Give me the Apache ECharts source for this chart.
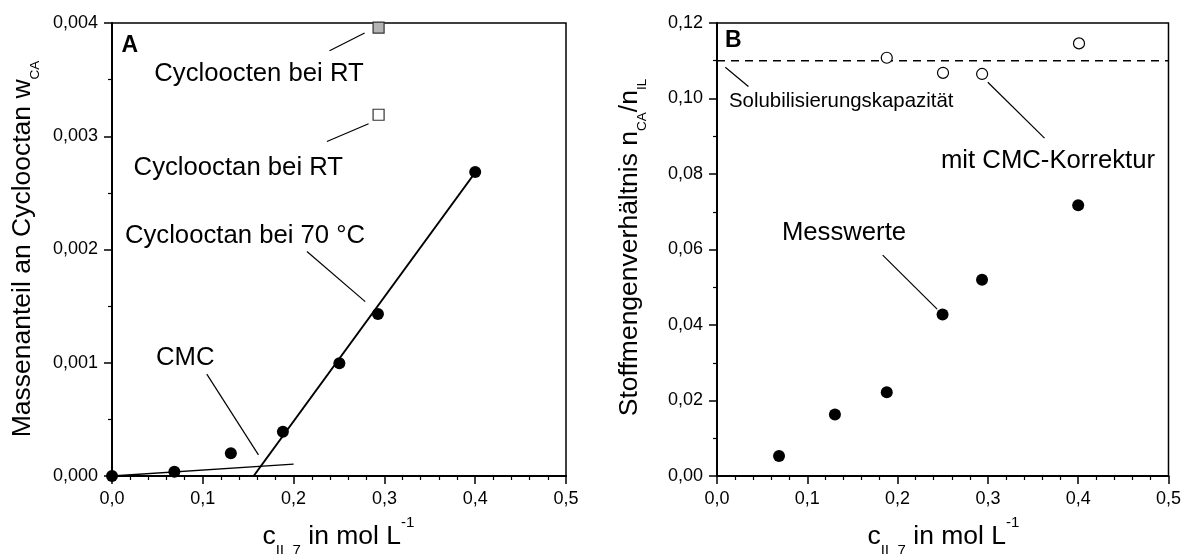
<!DOCTYPE html>
<html><head><meta charset="utf-8">
<script src="https://cdn.jsdelivr.net/npm/echarts@6/dist/echarts.min.js"></script>
<style>html,body{margin:0;padding:0;background:#fff}#c{width:1184px;height:554px}</style>
</head><body><div id="c"></div>
<script>
// ---------- data ----------
// axis ranges [min, max, interval]
const xRange = [0, 0.5, 0.1];
const yRangeA = [0, 0.004, 0.001];
const yRangeB = [0, 0.12, 0.02];
const xDecimals = 1, yDecimalsA = 3, yDecimalsB = 2;

// Panel A
const cA = [0, 0.0687, 0.1309, 0.1882, 0.2504, 0.2929, 0.4];
const wCA70 = [0, 0.000038, 0.0002, 0.00039, 0.000996, 0.00143, 0.002685];
const cycloocteneRT = [[0.2936, 0.00396]];
const cyclooctaneRT = [[0.2936, 0.00319]];
const fitLineA = [[0.156, 0], [0.4, 0.00268]];
const cmcLineA = [[0, 0], [0.2, 0.000105]];
const calloutsA = [
  [[0.2396, 0.003755], [0.2782, 0.003912]],
  [[0.2367, 0.002954], [0.2826, 0.00311]],
  [[0.2147, 0.001982], [0.2789, 0.00154]],
  [[0.1044, 0.0009], [0.1613, 0.000186]]
];

// Panel B
const cB = [0.0687, 0.1306, 0.188, 0.2498, 0.2935, 0.4];
const nRatio = [0.0053, 0.0163, 0.0222, 0.0428, 0.052, 0.0717];
const cBcorr = [0.188, 0.2503, 0.2936, 0.4009];
const nRatioCorr = [0.1108, 0.1068, 0.1065, 0.1146];
const capacity = 0.11;
const calloutsB = [
  [[0.0092, 0.1083], [0.0348, 0.1032]],
  [[0.1835, 0.0585], [0.2438, 0.0442]],
  [[0.2999, 0.1043], [0.3627, 0.0895]]
];

// ---------- chart ----------
const FONT = '"Liberation Sans", Arial, sans-serif';
const zip = (xs, ys) => xs.map((x, i) => [x, ys[i]]);
const fmt = d => v => v.toFixed(d).replace('.', ',');

function xAxis(gi) {
  return {
    type: 'value', gridIndex: gi, min: xRange[0], max: xRange[1], interval: xRange[2],
    axisLine: { onZero: false, lineStyle: { color: '#000', width: 2 } },
    axisTick: { length: 8, lineStyle: { color: '#000', width: 1.5 } },
    minorTick: { show: true, splitNumber: 5, length: 4, lineStyle: { color: '#000', width: 1.2 } },
    axisLabel: { formatter: fmt(xDecimals), fontSize: 18, color: '#000', margin: 14, fontFamily: FONT },
    splitLine: { show: false }, minorSplitLine: { show: false }
  };
}
function yAxis(gi, r, d) {
  return {
    type: 'value', gridIndex: gi, min: r[0], max: r[1], interval: r[2],
    axisLine: { onZero: false, lineStyle: { color: '#000', width: 2 } },
    axisTick: { length: 8, lineStyle: { color: '#000', width: 1.5 } },
    minorTick: { show: true, splitNumber: 2, length: 4, lineStyle: { color: '#000', width: 1.2 } },
    axisLabel: { formatter: fmt(d), fontSize: 18, color: '#000', margin: 14, fontFamily: FONT },
    splitLine: { show: false }, minorSplitLine: { show: false }
  };
}
function lineSeries(gi, data, width, extra) {
  return Object.assign({
    type: 'line', xAxisIndex: gi, yAxisIndex: gi, data: data, symbol: 'none', silent: true,
    lineStyle: { color: '#000', width: width }, z: 3, animation: false
  }, extra || {});
}
function scatter(gi, data, symbol, size, fill, border) {
  return {
    type: 'scatter', xAxisIndex: gi, yAxisIndex: gi, data: data, symbol: symbol, symbolSize: size,
    itemStyle: { color: fill, borderColor: border, borderWidth: border ? 1.2 : 0, opacity: 1 },
    z: 5, animation: false, silent: true
  };
}

const series = [];
series.push(lineSeries(0, fitLineA, 2));
series.push(lineSeries(0, cmcLineA, 1.3));
calloutsA.forEach(c => series.push(lineSeries(0, c, 1.2)));
series.push(scatter(0, zip(cA, wCA70), 'circle', 12, '#000'));
series.push(scatter(0, cycloocteneRT, 'rect', 11, '#b4b4b4', '#333'));
series.push(scatter(0, cyclooctaneRT, 'rect', 11, '#fff', '#333'));

series.push(lineSeries(1, [[xRange[0], capacity], [xRange[1], capacity]], 1.5, {
  lineStyle: { color: '#000', width: 1.5, type: [8, 6] }
}));
calloutsB.forEach(c => series.push(lineSeries(1, c, 1.2)));
series.push(scatter(1, zip(cB, nRatio), 'circle', 12, '#000'));
series.push(scatter(1, zip(cBcorr, nRatioCorr), 'circle', 11, '#fff', '#000'));

function txt(x, y, text, size, align, bold) {
  return {
    type: 'text', x: x, y: y, silent: true, z: 10,
    style: {
      text: text, fill: '#000', fontSize: size, fontFamily: FONT, fontWeight: bold ? 'bold' : 'normal',
      align: align || 'center', verticalAlign: 'middle', textAlign: align || 'center', textVerticalAlign: 'middle'
    }
  };
}
function richTxt(x, y, text, rich, rot) {
  return {
    type: 'text', x: x, y: y, rotation: rot || 0, silent: true, z: 10,
    style: {
      text: text, fill: '#000', fontFamily: FONT, fontSize: 26.5, rich: rich,
      align: 'center', verticalAlign: 'middle', textAlign: 'center', textVerticalAlign: 'middle'
    }
  };
}
const richX = {
  m: { fontSize: 26.5, lineHeight: 43, fontFamily: FONT, fill: '#000' },
  s: { fontSize: 15, lineHeight: 15, verticalAlign: 'bottom', fontFamily: FONT, fill: '#000' },
  p: { fontSize: 15, lineHeight: 38, verticalAlign: 'top', fontFamily: FONT, fill: '#000' }
};
const richY = {
  m: { fontSize: 26.5, lineHeight: 40.5, fontFamily: FONT, fill: '#000' },
  s: { fontSize: 13.5, lineHeight: 13.5, verticalAlign: 'bottom', fontFamily: FONT, fill: '#000' }
};
const xTitle = '{m|c}{s|IL 7}{m| in mol L}{p|-1}';

const graphic = [
  txt(121.5, 46, 'A', 23, 'left', true),
  txt(259, 74, 'Cycloocten bei RT', 25.7),
  txt(238.3, 167.5, 'Cyclooctan bei RT', 25.7),
  txt(245, 236, 'Cyclooctan bei 70 °C', 25.7),
  txt(185.3, 358, 'CMC', 25.7),
  txt(725, 41, 'B', 23, 'left', true),
  txt(729, 101.7, 'Solubilisierungskapazität', 20.4, 'left'),
  txt(844, 233, 'Messwerte', 25.7),
  txt(1048, 161, 'mit CMC-Korrektur', 25.7),
  richTxt(338.5, 536.6, xTitle, richX),
  richTxt(943.5, 536.6, xTitle, richX),
  richTxt(22.5, 249, '{m|Massenanteil an Cyclooctan w}{s|CA}', richY, Math.PI / 2),
  richTxt(629.3, 247.5, '{m|Stoffmengenverhältnis n}{s|CA}{m|/n}{s|IL}', richY, Math.PI / 2)
];

const chart = echarts.init(document.getElementById('c'), null, { renderer: 'canvas' });
chart.setOption({
  backgroundColor: '#fff',
  animation: false,
  grid: [
    { left: 112, top: 23, width: 454, height: 453, show: true, borderColor: '#000', borderWidth: 1.5, backgroundColor: 'transparent' },
    { left: 717, top: 23, width: 454, height: 453, show: true, borderColor: '#000', borderWidth: 1.5, backgroundColor: 'transparent' }
  ],
  xAxis: [xAxis(0), xAxis(1)],
  yAxis: [yAxis(0, yRangeA, yDecimalsA), yAxis(1, yRangeB, yDecimalsB)],
  series: series,
  graphic: graphic
});
</script>
</body></html>
